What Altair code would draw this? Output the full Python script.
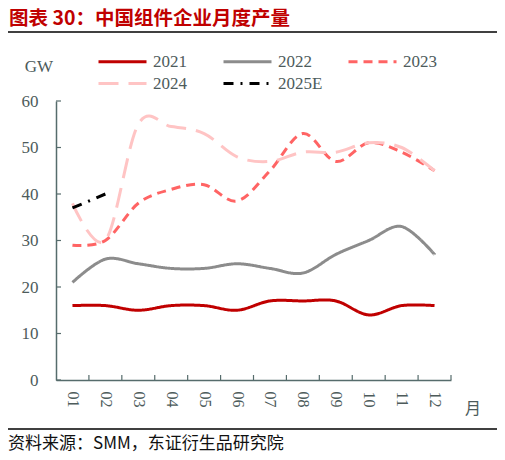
import altair as alt
import pandas as pd

months = ["01", "02", "03", "04", "05", "06", "07", "08", "09", "10", "11", "12"]
series_names = ["2021", "2022", "2023", "2024", "2025E"]
v2021 = [16, 16, 15, 16, 16, 15, 17, 17, 17, 14, 16, 16]
v2022 = [21, 26, 25, 24, 24, 25, 24, 23, 27, 30, 33, 27]
v2023 = [29, 30, 38, 41, 42, 38.5, 45, 53, 47, 51, 49, 45]
v2024 = [38, 30, 55, 54.5, 53, 48, 47, 49, 49, 51, 50, 45]
v2025e = [37, 40]
y_ticks = [0, 10, 20, 30, 40, 50, 60]

title_text = "图表 30：中国组件企业月度产量"
source_text = "资料来源：SMM，东证衍生品研究院"
unit_text = "GW"
xunit_text = "月"

colors = ["#C00000", "#8C8C8C", "#FF6464", "#FFC4C4", "#000000"]
dashes = [[1, 0], [1, 0], [9, 6], [20, 10], [10, 7, 2, 7]]

rows = []
for name, vals in zip(series_names, [v2021, v2022, v2023, v2024, v2025e]):
    for m, v in zip(months, vals):
        rows.append({"月": m, "series": name, "value": v})
df = pd.DataFrame(rows)

AXIS_C = "#566c6c"
LABEL_C = "#4d5b5b"
W, H = 395, 279

x_scale = alt.Scale(type="point", domain=months, padding=0.5)

legend_props = dict(
    orient="none", legendX=41, legendY=-53, columns=3, direction="horizontal",
    gridAlign="all", columnPadding=19, rowPadding=0,
    symbolType="M-2,0H2", symbolSize=576, symbolOffset=12,
    symbolStrokeWidth=3, labelFont="Liberation Serif",
    labelFontSize=17, labelColor=LABEL_C, labelOffset=17, title=None, padding=0,
)

lines = alt.Chart(df).mark_line(interpolate="cardinal", strokeWidth=3).encode(
    x=alt.X("月:N", scale=x_scale, sort=months,
            axis=alt.Axis(title=None, labelAngle=90, ticks=False, labelPadding=11,
                          labelFont="Liberation Serif", labelFontSize=16,
                          labelColor=LABEL_C, domainColor=AXIS_C, domainWidth=1.5)),
    y=alt.Y("value:Q", scale=alt.Scale(domain=[0, 60], nice=False),
            axis=alt.Axis(title=None, values=y_ticks, ticks=False, grid=False,
                          labelPadding=18, labelFont="Liberation Serif", labelFontSize=17,
                          labelColor=LABEL_C, domainColor=AXIS_C, domainWidth=1.5)),
    color=alt.Color("series:N", scale=alt.Scale(domain=series_names, range=colors),
                    legend=alt.Legend(**legend_props)),
    strokeDash=alt.StrokeDash("series:N", scale=alt.Scale(domain=series_names, range=dashes),
                              legend=alt.Legend(**legend_props)),
)

xticks = alt.Chart(pd.DataFrame({"月": months})).mark_rule(
    color=AXIS_C, strokeWidth=1.2, xOffset=W / 24).encode(
    x=alt.X("月:N", scale=x_scale, sort=months),
    y=alt.value(H), y2=alt.value(H - 5),
)

yticks = alt.Chart(pd.DataFrame({"v": y_ticks})).mark_rule(
    color=AXIS_C, strokeWidth=1.2).encode(
    y=alt.Y("v:Q"), x=alt.value(0), x2=alt.value(5),
)

one = pd.DataFrame({"t": [title_text], "s": [source_text], "u": [unit_text], "m": [xunit_text]})

title = alt.Chart(one).mark_text(
    font="Noto Sans CJK SC", fontSize=19.5, fontWeight="bold", color="#C00000",
    align="left", baseline="middle").encode(
    text="t:N", x=alt.value(-47), y=alt.value(-82))

top_rule = alt.Chart(one).mark_rule(color="#000000", strokeWidth=1.3).encode(
    x=alt.value(-48), x2=alt.value(444), y=alt.value(-69))

bottom_rule = alt.Chart(one).mark_rule(color="#000000", strokeWidth=1.3).encode(
    x=alt.value(-48), x2=alt.value(444), y=alt.value(328))

source = alt.Chart(one).mark_text(
    font="Noto Sans CJK SC", fontSize=17, color="#111111",
    align="left", baseline="middle").encode(
    text="s:N", x=alt.value(-48), y=alt.value(343))

unit = alt.Chart(one).mark_text(
    font="Liberation Serif", fontSize=17, color=LABEL_C,
    align="center", baseline="middle").encode(
    text="u:N", x=alt.value(-17), y=alt.value(-34))

xunit = alt.Chart(one).mark_text(
    font="Noto Sans CJK SC", fontSize=16, color=LABEL_C,
    align="center", baseline="middle").encode(
    text="m:N", x=alt.value(417), y=alt.value(308))

chart = alt.layer(
    lines, xticks, yticks, title, top_rule, bottom_rule, source, unit, xunit
).properties(
    width=W, height=H,
    autosize=alt.AutoSizeParams(type="none"),
    padding={"left": 48, "top": 93, "right": 46, "bottom": 76},
).configure_view(stroke=None)

chart.save("out.html", embed_options={"renderer": "svg", "actions": False})
